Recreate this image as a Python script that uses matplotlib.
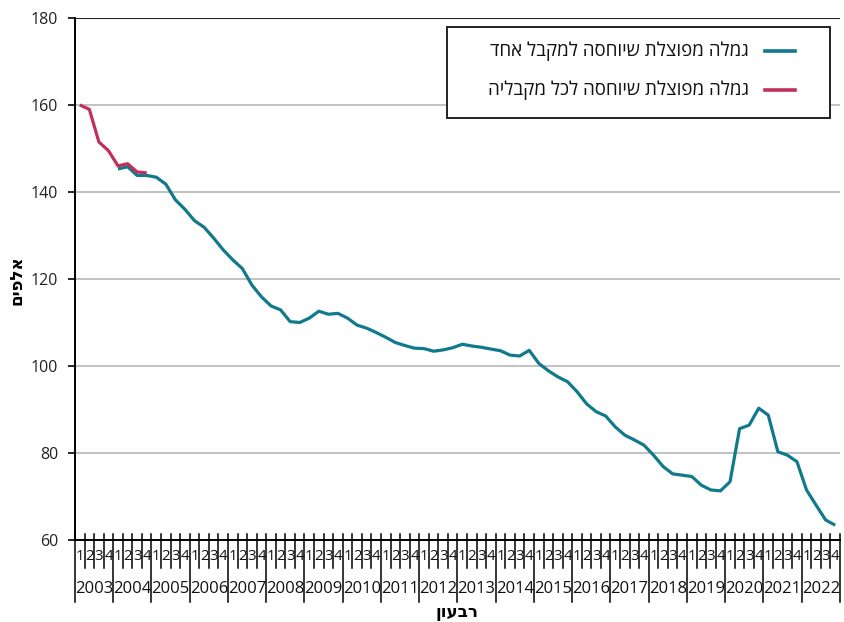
import matplotlib
matplotlib.use("Agg")
import matplotlib.pyplot as plt
import matplotlib.transforms as mtransforms
from matplotlib.lines import Line2D
from matplotlib.patches import Rectangle
import numpy as np

# ---------------- data ----------------
years = list(range(2003, 2023))
quarter_labels = ["1", "2", "3", "4"]

# split pension attributed to all its recipients (2003Q1-2004Q4)
all_recipients = [160.0, 159.0, 151.5, 149.5, 146.0, 146.5, 144.6, 144.4]

# split pension attributed to a single recipient (2004Q1-2022Q4)
single_recipient = [
    145.3, 145.8, 143.8, 143.8,
    143.4, 141.8, 138.2, 136.0,
    133.4, 131.9, 129.4, 126.7,
    124.4, 122.4, 118.6, 115.9,
    113.8, 112.9, 110.2, 110.0,
    111.0, 112.6, 111.9, 112.1,
    111.0, 109.4, 108.7, 107.7,
    106.6, 105.4, 104.7, 104.1,
    104.0, 103.4, 103.7, 104.2,
    105.0, 104.6, 104.3, 103.9,
    103.5, 102.5, 102.3, 103.6,
    100.6, 98.9, 97.5, 96.4,
    94.1, 91.3, 89.5, 88.5,
    86.0, 84.1, 83.0, 81.8,
    79.5, 76.9, 75.2, 74.9,
    74.6, 72.6, 71.5, 71.3,
    73.4, 85.6, 86.4, 90.3,
    88.7, 80.3, 79.5, 78.0,
    71.5, 68.0, 64.6, 63.4,
]
single_start_quarter = 4  # 2004Q1

label_single = "גמלה מפוצלת שיוחסה למקבל אחד"
label_all = "גמלה מפוצלת שיוחסה לכל מקבליה"
ylabel_text = "אלפים"
xlabel_text = "רבעון"

def vis(s):
    # matplotlib has no bidi support: put Hebrew in visual order
    return s[::-1]

FONT = ["Open Sans", "DejaVu Sans"]
plt.rcParams["font.family"] = FONT

BLUE = "#107a8c"
RED = "#c0305a"

n_q = len(years) * 4
x_all = np.arange(n_q)

fig = plt.figure(figsize=(8.45, 6.22), dpi=100)
W, H = 845, 622
ax_l, ax_r, ax_t, ax_b = 75, 840, 18, 540
ax = fig.add_axes([ax_l / W, 1 - ax_b / H, (ax_r - ax_l) / W, (ax_b - ax_t) / H])

ax.plot(x_all[single_start_quarter:single_start_quarter + len(single_recipient)],
        single_recipient, color=BLUE, lw=2.3, solid_joinstyle="round",
        solid_capstyle="butt", zorder=3)
ax.plot(x_all[:len(all_recipients)], all_recipients, color=RED, lw=2.3,
        solid_joinstyle="round", solid_capstyle="butt", zorder=4)

ax.set_xlim(-0.5, n_q - 0.5)
ax.set_ylim(60, 180)
ax.set_yticks(np.arange(60, 181, 20))
for v in np.arange(80, 161, 20):
    ax.axhline(v, color="#bdbdbd", lw=1.3, zorder=1)
ax.axhline(180, color="#222222", lw=1.5, zorder=2)

for s in ["top", "right"]:
    ax.spines[s].set_visible(False)
ax.spines["left"].set_linewidth(1.4)
ax.spines["bottom"].set_linewidth(1.4)
ax.tick_params(axis="y", direction="out", length=5, width=1.2, pad=7,
               labelsize=11.5, labelcolor="#222222")
ax.set_xticks([])

# category axis: quarters and years
tr = mtransforms.blended_transform_factory(ax.transData, ax.transAxes)
px = 1.0 / (ax_b - ax_t)
for b in range(n_q + 1):
    xb = b - 0.5
    y_top = 6 * px
    y_bot = -(602 - ax_b) * px if b % 4 == 0 else -(568 - ax_b) * px
    ax.add_line(Line2D([xb, xb], [y_top, y_bot], transform=tr, color="black",
                       lw=1.1, clip_on=False))
for i in range(n_q):
    ax.text(x_all[i], -(557 - ax_b) * px, quarter_labels[i % 4], transform=tr,
            ha="center", va="center", fontsize=10.8, color="#111111")
for k, yr in enumerate(years):
    ax.text(4 * k + 1.5, -(589 - ax_b) * px, str(yr), transform=tr,
            ha="center", va="center", fontsize=12, color="#111111")

fig.text((ax_l + ax_r) / 2 / W, 1 - 612 / H, vis(xlabel_text), ha="center",
         va="center", fontsize=12, fontweight="bold")
fig.text(17 / W, 1 - 280 / H, vis(ylabel_text), ha="center", va="center",
         rotation=90, fontsize=12, fontweight="bold")

# legend box (drawn in figure pixels)
lx0, lx1, ly0, ly1 = 447, 830, 27, 118
fig.patches.append(Rectangle((lx0 / W, 1 - ly1 / H), (lx1 - lx0) / W, (ly1 - ly0) / H,
                             transform=fig.transFigure, facecolor="white",
                             edgecolor="#222222", lw=1.4, zorder=10))
for yy, col, lab in [(51, BLUE, label_single), (90, RED, label_all)]:
    fig.lines.append(Line2D([765 / W, 795 / W], [1 - yy / H, 1 - yy / H],
                            transform=fig.transFigure, color=col, lw=2.6, zorder=11))
    fig.text(749 / W, 1 - yy / H, vis(lab), ha="right", va="center",
             fontsize=13.5, color="#111111", zorder=11)

fig.savefig("out.png", dpi=100)
